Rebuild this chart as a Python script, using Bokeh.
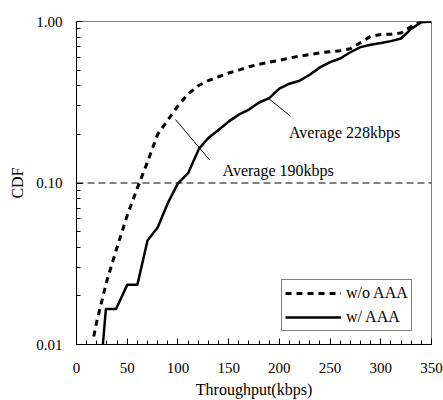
from bokeh.plotting import figure
from bokeh.models import (Span, Label, Legend, LegendItem, FixedTicker,
                          PrintfTickFormatter, Range1d)
from bokeh.embed import file_html
from bokeh.resources import INLINE

# ---- data ----
wo_x = [17, 20, 30, 40, 50, 60, 70, 80, 90, 100, 110, 120, 130, 140, 150, 160,
        170, 180, 190, 200, 210, 220, 230, 240, 250, 260, 270, 280, 290, 300,
        310, 320, 330, 340, 350]
wo_y = [0.0112, 0.0139, 0.0249, 0.040, 0.063, 0.093, 0.135, 0.20, 0.245, 0.30,
        0.355, 0.40, 0.43, 0.455, 0.48, 0.50, 0.525, 0.543, 0.56, 0.575, 0.594,
        0.61, 0.624, 0.64, 0.65, 0.66, 0.678, 0.74, 0.81, 0.83, 0.835, 0.85,
        0.93, 1.0, 1.0]

w_x = [26, 29, 39, 50, 60, 70, 80, 90, 100, 110, 121, 130, 140, 150, 160, 170,
       180, 190, 200, 210, 220, 230, 240, 250, 260, 270, 280, 290, 300, 310,
       320, 330, 340, 350]
w_y = [0.01, 0.0166, 0.0166, 0.0234, 0.0234, 0.044, 0.053, 0.075, 0.0995,
       0.115, 0.164, 0.19, 0.213, 0.24, 0.265, 0.285, 0.315, 0.335, 0.384,
       0.412, 0.43, 0.468, 0.52, 0.56, 0.59, 0.645, 0.694, 0.718, 0.735, 0.756,
       0.785, 0.90, 0.99, 1.0]

series_names = ["w/o AAA", "w/ AAA"]
ref_level = 0.10
x_ticks = [0, 50, 100, 150, 200, 250, 300, 350]
y_ticks = [0.01, 0.1, 1.0]

# annotations: leader lines and texts
lead_190 = ([97.6, 131.2], [0.247, 0.139])
lead_228 = ([189.6, 211.0], [0.333, 0.259])
text_190 = (144, 0.119, "Average 190kbps")
text_228 = (209.5, 0.206, "Average 228kbps")

FONT = "Liberation Serif"

p = figure(width=443, height=400, output_backend="svg", toolbar_location=None,
           x_range=Range1d(0, 350), y_range=Range1d(0.01, 1.0),
           y_axis_type="log",
           min_border_left=76, min_border_right=12, min_border_top=21,
           min_border_bottom=55)
p.grid.visible = False
p.outline_line_color = "#808080"
p.outline_line_width = 1
p.background_fill_color = "white"
p.border_fill_color = "white"

# axes
p.xaxis.ticker = FixedTicker(ticks=x_ticks, minor_ticks=list(range(0, 351, 10)))
minors = [m * d for d in (0.01, 0.1) for m in range(2, 10)]
p.yaxis.ticker = FixedTicker(ticks=y_ticks, minor_ticks=minors)
p.yaxis.formatter = PrintfTickFormatter(format="%.2f")
for ax in (p.xaxis[0], p.yaxis[0]):
    ax.axis_line_color = "black"
    ax.axis_line_width = 1
    ax.major_tick_in = 6
    ax.major_tick_out = 0
    ax.minor_tick_in = 4
    ax.minor_tick_out = 0
    ax.major_tick_line_color = "black"
    ax.minor_tick_line_color = "black"
    ax.major_label_text_font = FONT
    ax.major_label_text_font_size = "15px"
    ax.major_label_text_color = "black"
    ax.axis_label_text_font = FONT
    ax.axis_label_text_font_size = "16px"
    ax.axis_label_text_font_style = "normal"
    ax.axis_label_text_color = "black"
p.xaxis.axis_label = "Throughput(kbps)"
p.yaxis.axis_label = "CDF"
p.xaxis.major_label_standoff = 18
p.yaxis.major_label_standoff = 14
p.xaxis.axis_label_standoff = 5
p.yaxis.axis_label_standoff = 7

# reference line at 0.10
p.add_layout(Span(location=ref_level, dimension="width", line_color="black",
                  line_width=1, line_dash="7 4"))

r_wo = p.line(wo_x, wo_y, line_color="black", line_width=3, line_dash="6 5")
r_w = p.line(w_x, w_y, line_color="black", line_width=2.5)

p.line(lead_190[0], lead_190[1], line_color="black", line_width=1)
p.line(lead_228[0], lead_228[1], line_color="black", line_width=1)

for tx, ty, tt in (text_190, text_228):
    p.add_layout(Label(x=tx, y=ty, text=tt, text_font=FONT,
                       text_font_size="16px", text_color="black",
                       text_baseline="middle", text_align="left"))

legend = Legend(items=[LegendItem(label=series_names[0], renderers=[r_wo]),
                       LegendItem(label=series_names[1], renderers=[r_w])],
                location=(205, 13), glyph_width=56, glyph_height=20,
                label_height=20, label_standoff=5, padding=3, spacing=4,
                margin=0,
                label_text_font=FONT, label_text_font_size="16px",
                label_text_color="black",
                border_line_color="black", border_line_width=1,
                background_fill_alpha=1.0)
p.add_layout(legend)

open("out.html", "w").write(file_html(p, INLINE))
